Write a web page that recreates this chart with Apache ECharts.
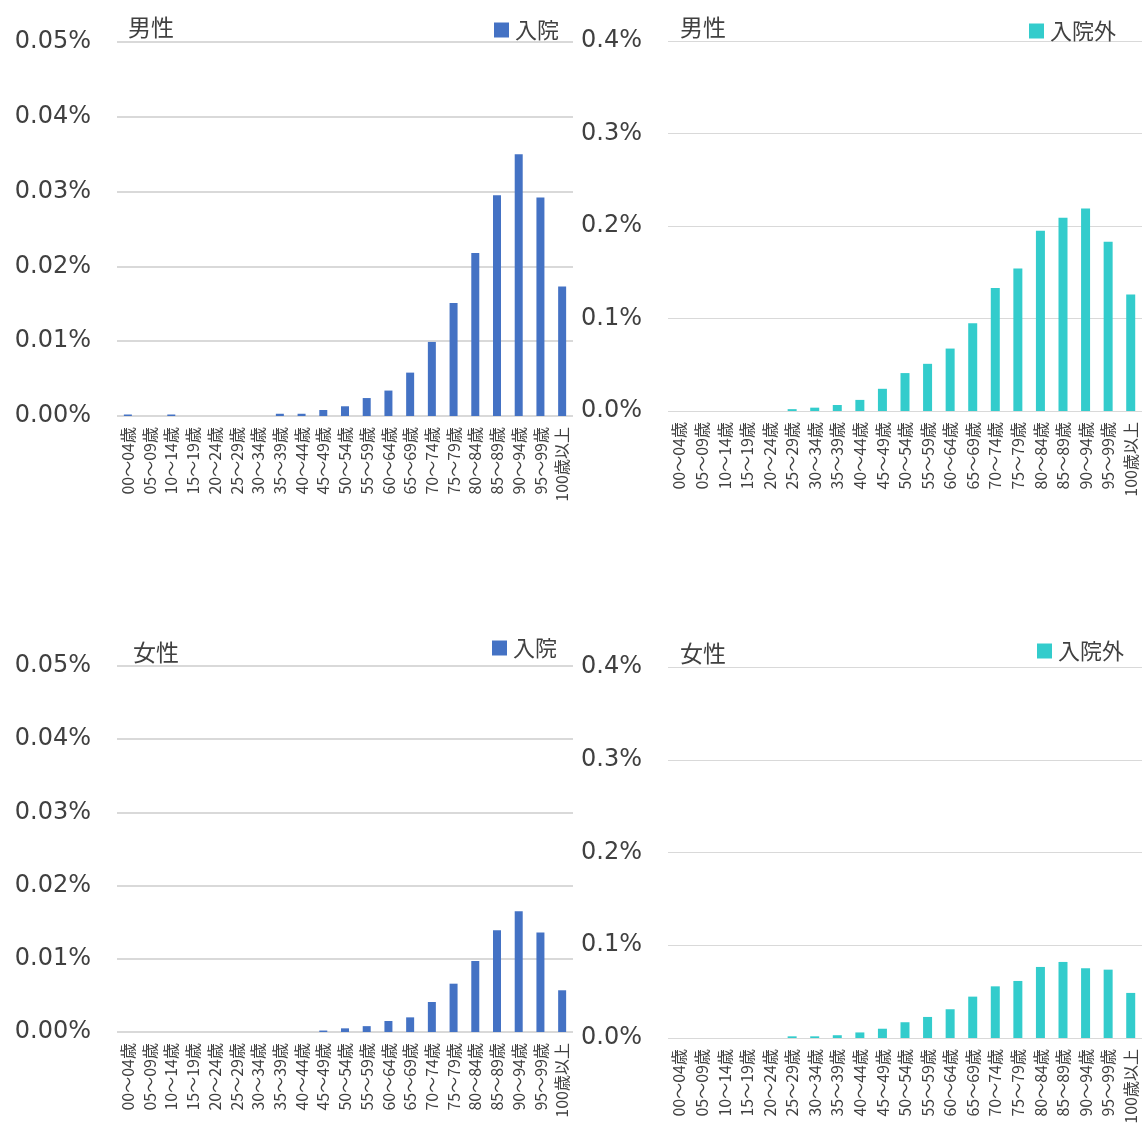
<!DOCTYPE html>
<html>
<head>
<meta charset="utf-8">
<script src="https://cdn.jsdelivr.net/npm/echarts@6/dist/echarts.min.js"></script>
<style>
  html, body { margin: 0; padding: 0; background: #fff; }
  #chart-1 { width: 1144px; height: 1139px; }
</style>
</head>
<body>
<div id="chart-1"></div>
<script>
// age groups on the x axis
var categories = ["00～04歳", "05～09歳", "10～14歳", "15～19歳", "20～24歳", "25～29歳",
  "30～34歳", "35～39歳", "40～44歳", "45～49歳", "50～54歳", "55～59歳", "60～64歳",
  "65～69歳", "70～74歳", "75～79歳", "80～84歳", "85～89歳", "90～94歳", "95～99歳", "100歳以上"];

// values in %
var maleInpatient = [0.0002, 0, 0.0002, 0, 0, 0, 0, 0.0003, 0.0003, 0.0008, 0.0013, 0.0024,
  0.0034, 0.0058, 0.0099, 0.0151, 0.0218, 0.0295, 0.035, 0.0292, 0.0173];
var maleOutpatient = [0, 0, 0, 0, 0, 0.002, 0.0036, 0.0065, 0.012, 0.024, 0.041, 0.051,
  0.0675, 0.095, 0.133, 0.154, 0.195, 0.209, 0.219, 0.183, 0.126];
var femaleInpatient = [0, 0, 0, 0, 0, 0, 0, 0, 0, 0.0002, 0.0005, 0.0008,
  0.0015, 0.002, 0.0041, 0.0066, 0.0097, 0.0139, 0.0165, 0.0136, 0.0057];
var femaleOutpatient = [0, 0, 0, 0, 0, 0.0018, 0.0018, 0.003, 0.006, 0.01, 0.017, 0.0227,
  0.031, 0.0446, 0.0557, 0.0615, 0.0766, 0.082, 0.0752, 0.0737, 0.0486];

var inpatientTicks = { min: 0, max: 0.05, interval: 0.01, digits: 2 };
var outpatientTicks = { min: 0, max: 0.4, interval: 0.1, digits: 1 };

var textColor = "#404040";
var cjkFont = "'Noto Sans CJK JP', 'Noto Sans', sans-serif";

var dom = document.getElementById("chart-1");
var Chart1 = echarts.init(dom, null, { renderer: "canvas" });

// one panel per quadrant
var panels = [
  { title: "男性", name: "入院", color: "#4472C4", data: maleInpatient, ticks: inpatientTicks,
    grid: { left: 117, top: 42, width: 456, height: 374 }, titlePos: [123, 11], legendPos: [489, 14], barWidth: 8, lineWidth: 2 },
  { title: "男性", name: "入院外", color: "#33CCCC", data: maleOutpatient, ticks: outpatientTicks,
    grid: { left: 668, top: 41, width: 474, height: 370 }, titlePos: [675, 11], legendPos: [1024, 15], barWidth: 9, lineWidth: 1 },
  { title: "女性", name: "入院", color: "#4472C4", data: femaleInpatient, ticks: inpatientTicks,
    grid: { left: 117, top: 666, width: 456, height: 366 }, titlePos: [128, 636], legendPos: [487, 632], barWidth: 8, lineWidth: 2 },
  { title: "女性", name: "入院外", color: "#33CCCC", data: femaleOutpatient, ticks: outpatientTicks,
    grid: { left: 668, top: 667, width: 474, height: 371 }, titlePos: [675, 637], legendPos: [1032, 635], barWidth: 9, lineWidth: 1 },
];

var option = {
  animation: false,
  title: [],
  legend: [],
  grid: [],
  xAxis: [],
  yAxis: [],
  series: [],
};

panels.forEach(function (p, i) {
  option.title.push({
    text: p.title,
    left: p.titlePos[0],
    top: p.titlePos[1],
    textStyle: { fontFamily: cjkFont, fontSize: 23, fontWeight: "normal", color: textColor },
  });
  option.legend.push({
    data: [p.name],
    left: p.legendPos[0],
    top: p.legendPos[1],
    icon: "rect",
    itemWidth: 15,
    itemHeight: 15,
    itemGap: 6,
    selectedMode: false,
    textStyle: { fontFamily: cjkFont, fontSize: 22, color: textColor, padding: [0, 0, 0, 1] },
  });
  option.grid.push(Object.assign({ containLabel: false }, p.grid));
  option.xAxis.push({
    type: "category",
    gridIndex: i,
    data: categories,
    axisLine: { show: false },
    axisTick: { show: false },
    axisLabel: {
      rotate: 90,
      interval: 0,
      margin: 11,
      fontFamily: cjkFont,
      fontSize: 16,
      color: textColor,
    },
  });
  option.yAxis.push({
    type: "value",
    gridIndex: i,
    min: p.ticks.min,
    max: p.ticks.max,
    interval: p.ticks.interval,
    axisLine: { show: false },
    axisTick: { show: false },
    splitLine: { lineStyle: { color: "#D9D9D9", width: p.lineWidth } },
    axisLabel: {
      margin: 26,
      fontFamily: "'DejaVu Sans', sans-serif",
      fontSize: 24,
      color: textColor,
      formatter: (function (d) {
        return function (value) {
          return value.toFixed(d) + "%";
        };
      })(p.ticks.digits),
    },
  });
  option.series.push({
    name: p.name,
    type: "bar",
    xAxisIndex: i,
    yAxisIndex: i,
    color: p.color,
    barWidth: p.barWidth,
    data: p.data,
  });
});

if (option && typeof option === "object") {
  Chart1.setOption(option);
}

window.addEventListener("resize", Chart1.resize);
</script>
</body>
</html>
